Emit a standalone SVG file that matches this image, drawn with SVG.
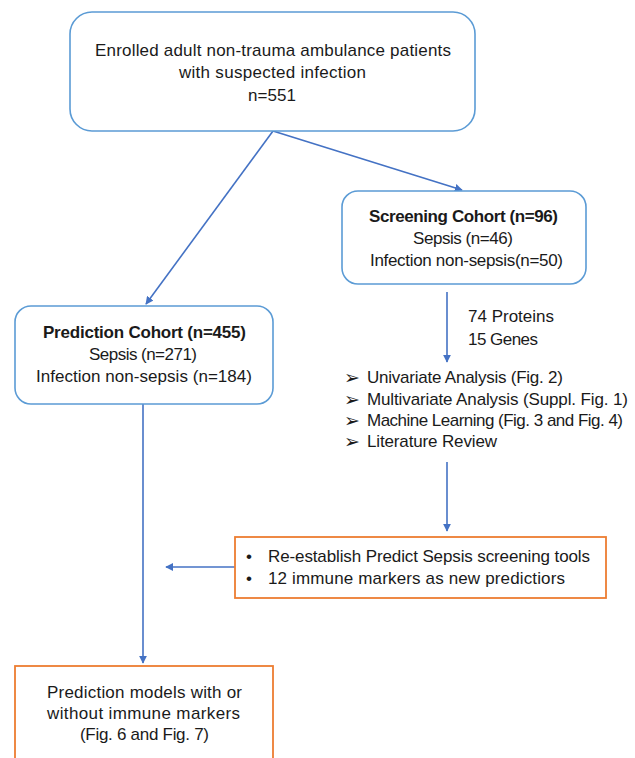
<svg xmlns="http://www.w3.org/2000/svg" width="635" height="758" viewBox="0 0 635 758">
<defs>
<style>
text{font-family:"Liberation Sans","DejaVu Sans",sans-serif;font-size:17px;fill:#1a1a1a}
.b{font-weight:bold}
.m{text-anchor:middle}
.s{font-family:"DejaVu Sans",sans-serif;font-size:19px}
.rb{fill:#fff;stroke:#5B9BD5;stroke-width:1.6}
.ob{fill:#fff;stroke:#ED7D31;stroke-width:1.8}
.c{stroke:#4472C4;stroke-width:1.6;fill:none;marker-end:url(#ah)}
</style>
<marker id="ah" viewBox="0 0 10 10" refX="9" refY="5" markerWidth="8" markerHeight="8" markerUnits="userSpaceOnUse" orient="auto">
<path d="M0,0 L10,5 L0,10 z" fill="#4472C4"/>
</marker>
</defs>
<rect width="635" height="758" fill="#fff"/>
<g id="connectors">
<line class="c" x1="273" y1="131" x2="146" y2="304"/>
<line class="c" x1="273" y1="131" x2="462" y2="190"/>
<line class="c" x1="447" y1="292" x2="447" y2="362"/>
<line class="c" x1="447" y1="462" x2="447" y2="531"/>
<line class="c" x1="235" y1="567" x2="166" y2="567"/>
<line class="c" x1="143" y1="404" x2="143" y2="663"/>
</g>
<g id="enrolled">
<rect class="rb" x="70" y="12" width="405" height="119" rx="22"/>
<text class="m" x="273" y="56" textLength="356">Enrolled adult non-trauma ambulance patients</text>
<text class="m" x="272.5" y="78" textLength="187">with suspected infection</text>
<text class="m" x="272" y="101" textLength="48">n=551</text>
</g>
<g id="screening">
<rect class="rb" x="342" y="191" width="244" height="93" rx="16"/>
<text class="m b" x="463.5" y="222" textLength="189">Screening Cohort (n=96)</text>
<text class="m" x="463" y="244" textLength="100">Sepsis (n=46)</text>
<text class="m" x="466.5" y="266" textLength="193">Infection non-sepsis(n=50)</text>
</g>
<g id="prediction">
<rect class="rb" x="15" y="306" width="258" height="98" rx="16"/>
<text class="m b" x="144.5" y="338" textLength="203">Prediction Cohort (n=455)</text>
<text class="m" x="143" y="360" textLength="108">Sepsis (n=271)</text>
<text class="m" x="144" y="382" textLength="216">Infection non-sepsis (n=184)</text>
</g>
<g id="omics">
<text x="468" y="322" textLength="86">74 Proteins</text>
<text x="468" y="345" textLength="70">15 Genes</text>
</g>
<g id="analyses">
<text class="s" x="344" y="384">➢</text><text x="367" y="383" textLength="196">Univariate Analysis (Fig. 2)</text>
<text class="s" x="344" y="406">➢</text><text x="367" y="405" textLength="261">Multivariate Analysis (Suppl. Fig. 1)</text>
<text class="s" x="344" y="427">➢</text><text x="367" y="426" textLength="256">Machine Learning (Fig. 3 and Fig. 4)</text>
<text class="s" x="344" y="448">➢</text><text x="367" y="447" textLength="130">Literature Review</text>
</g>
<g id="tools">
<rect class="ob" x="235" y="537" width="371" height="61"/>
<text x="246" y="562">•</text><text x="268" y="562" textLength="322">Re-establish Predict Sepsis screening tools</text>
<text x="246" y="584">•</text><text x="268" y="584" textLength="297">12 immune markers as new predictiors</text>
</g>
<g id="models">
<rect class="ob" x="15" y="666" width="258" height="100"/>
<text class="m" x="144.5" y="698" textLength="195">Prediction models with or</text>
<text class="m" x="143.5" y="719" textLength="193">without immune markers</text>
<text class="m" x="144.5" y="740" textLength="129">(Fig. 6 and Fig. 7)</text>
</g>
</svg>
